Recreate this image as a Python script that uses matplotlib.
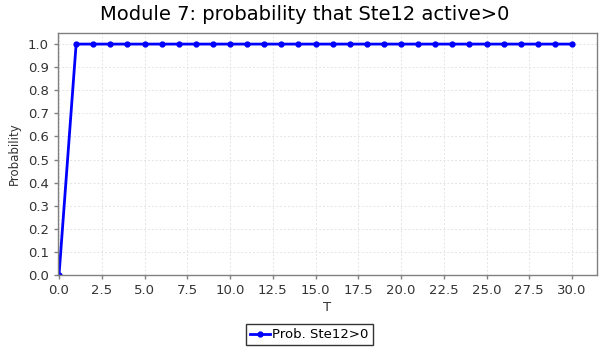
import matplotlib
matplotlib.use("Agg")
import matplotlib.pyplot as plt

# ─── Data ─────────────────────────────────────────────────────────────────────
t_values = list(range(0, 31))
prob_values = [0.0] + [1.0] * 30
series_label = "Prob. Ste12>0"
title = "Module 7: probability that Ste12 active>0"

x_ticks = [0, 2.5, 5, 7.5, 10, 12.5, 15, 17.5, 20, 22.5, 25, 27.5, 30]
y_ticks = [0.0, 0.1, 0.2, 0.3, 0.4, 0.5, 0.6, 0.7, 0.8, 0.9, 1.0]

# ─── Figure ───────────────────────────────────────────────────────────────────
W, H = 609, 352
fig = plt.figure(figsize=(W / 100, H / 100), dpi=100)
ax = fig.add_axes([58 / W, 1 - 275 / H, (597 - 58) / W, (275 - 33) / H])

ax.plot(t_values, prob_values, color="#0000ff", linewidth=2,
        marker="o", markersize=3.5, label=series_label)

ax.set_xlim(-0.06, 31.46)
ax.set_ylim(0.0, 1.048)
ax.set_xticks(x_ticks)
ax.set_xticklabels([f"{v:.1f}" for v in x_ticks])
ax.set_yticks(y_ticks)
ax.set_yticklabels([f"{v:.1f}" for v in y_ticks])

ax.grid(True, color="#e4e4e4", linestyle=(0, (2, 2)), linewidth=0.7)
ax.set_axisbelow(True)
for s in ax.spines.values():
    s.set_color("#808080")
    s.set_linewidth(1)
ax.tick_params(colors="#808080", labelcolor="#333333", labelsize=9.5,
               length=3, width=1)

ax.set_xlabel("T", fontsize=9.5, color="#333333", labelpad=3)
ax.set_ylabel("Probability", fontsize=8.5, color="#333333", labelpad=5)
fig.suptitle(title, fontsize=14, y=0.985)

fig.legend(loc="lower center", bbox_to_anchor=(0.508, 0.0), fontsize=9.5,
           frameon=True, fancybox=False, edgecolor="black",
           handlelength=1.5, handletextpad=0.2, borderpad=0.3)

fig.savefig("out.png", dpi=100)
